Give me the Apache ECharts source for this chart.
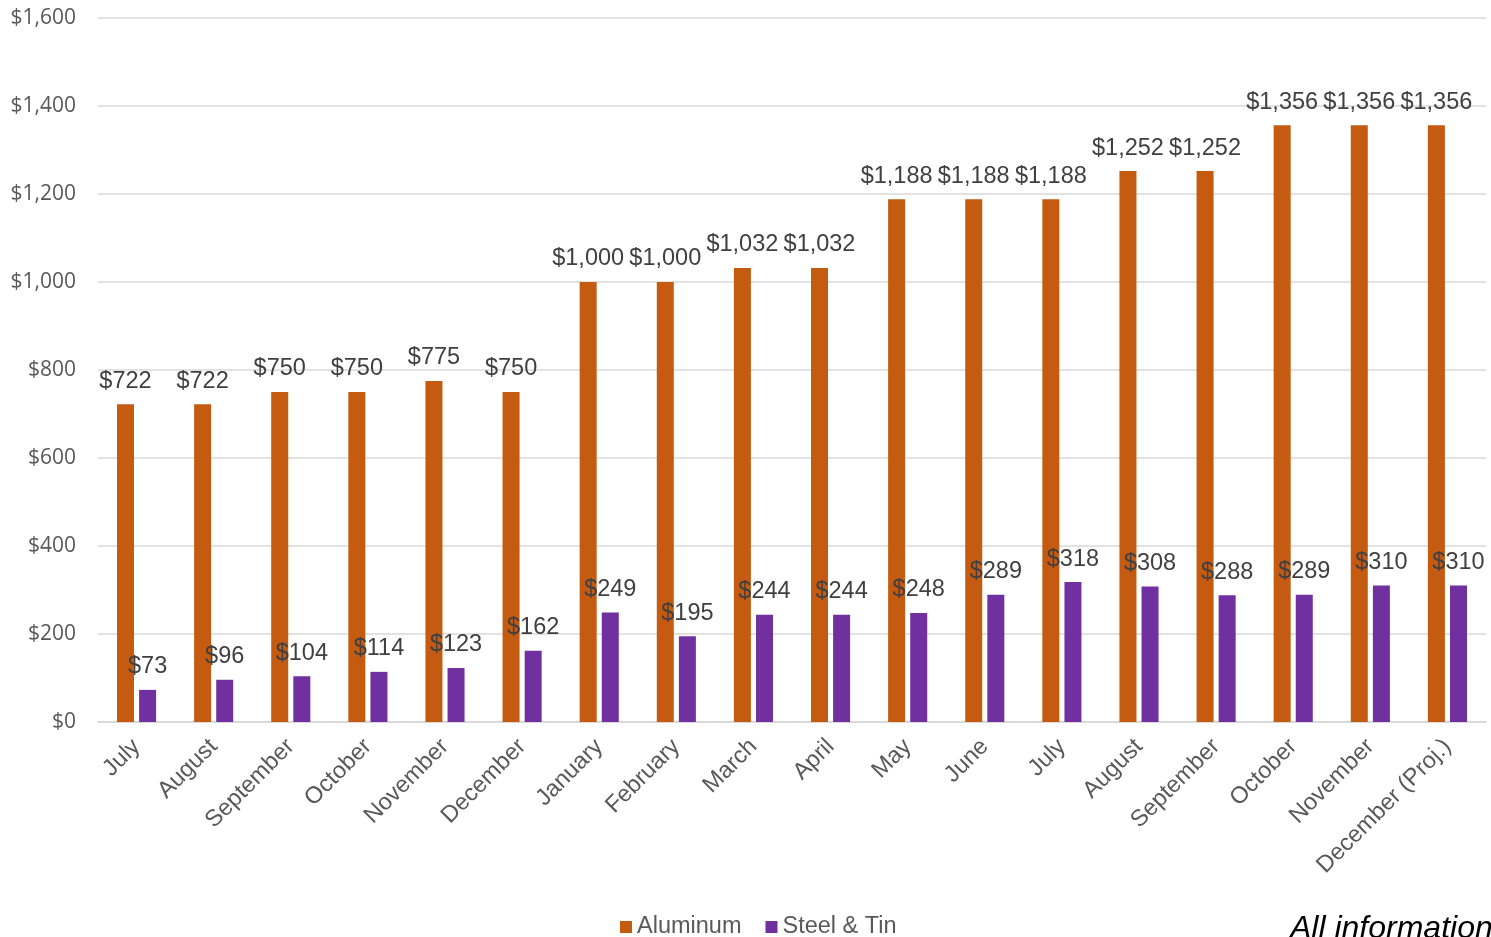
<!DOCTYPE html>
<html>
<head>
<meta charset="utf-8">
<title>Aluminum vs Steel & Tin</title>
<script src="https://cdn.jsdelivr.net/npm/echarts@6/dist/echarts.min.js"></script>
<style>
  html, body { margin: 0; padding: 0; background: #fff; }
  #chart { width: 1491px; height: 937px; }
</style>
</head>
<body>
<div id="chart"></div>
<script>
// Monthly prices, July through December (projected)
const months = ['July', 'August', 'September', 'October', 'November', 'December',
  'January', 'February', 'March', 'April', 'May', 'June',
  'July', 'August', 'September', 'October', 'November', 'December (Proj.)'];
const aluminum = [722, 722, 750, 750, 775, 750, 1000, 1000, 1032, 1032, 1188, 1188, 1188, 1252, 1252, 1356, 1356, 1356];
const steelTin = [73, 96, 104, 114, 123, 162, 249, 195, 244, 244, 248, 289, 318, 308, 288, 289, 310, 310];
const seriesNames = ['Aluminum', 'Steel & Tin'];

const money = v => '$' + Number(v).toLocaleString('en-US');

const chart = echarts.init(document.getElementById('chart'));

const labelStyle = {
  show: true,
  position: 'top',
  distance: 11,
  color: '#404040',
  fontFamily: 'Liberation Sans, Arial, sans-serif',
  fontSize: 23.5,
  formatter: p => money(p.value)
};

chart.setOption({
  animation: false,
  backgroundColor: '#fff',
  grid: {
    left: 98, right: 5, top: 18, bottom: 215,
    containLabel: false,
    outerBoundsMode: 'none'
  },
  legend: {
    data: seriesNames,
    left: 615,
    top: 910,
    icon: 'rect',
    itemWidth: 12,
    itemHeight: 12,
    itemGap: 24,
    textStyle: { color: '#595959', fontFamily: 'Liberation Sans, Arial, sans-serif', fontSize: 23.5 }
  },
  xAxis: {
    type: 'category',
    data: months,
    axisLine: { lineStyle: { color: '#d9d9d9', width: 2 } },
    axisTick: { show: false },
    axisLabel: {
      interval: 0,
      rotate: 45,
      margin: 21,
      color: '#595959',
      fontFamily: 'Liberation Sans, Arial, sans-serif',
      fontSize: 23.5
    }
  },
  yAxis: {
    type: 'value',
    min: 0, max: 1600, interval: 200,
    axisLine: { show: false },
    axisTick: { show: false },
    splitLine: { lineStyle: { color: '#d9d9d9', width: 1.5 } },
    axisLabel: {
      margin: 22,
      color: '#595959',
      fontFamily: 'Open Sans, sans-serif',
      fontSize: 21,
      formatter: v => money(v)
    }
  },
  series: [
    {
      name: seriesNames[0], type: 'bar', data: aluminum,
      barWidth: 17, barGap: '30%',
      itemStyle: { color: '#C55A11' },
      label: labelStyle
    },
    {
      name: seriesNames[1], type: 'bar', data: steelTin,
      barWidth: 17,
      itemStyle: { color: '#7030A0' },
      label: labelStyle
    }
  ],
  graphic: [{
    type: 'text',
    left: 1290,
    top: 913,
    style: {
      text: 'All information',
      fill: '#000',
      fontFamily: 'Liberation Sans, Arial, sans-serif',
      fontStyle: 'italic',
      fontSize: 32
    }
  }]
});
</script>
</body>
</html>
